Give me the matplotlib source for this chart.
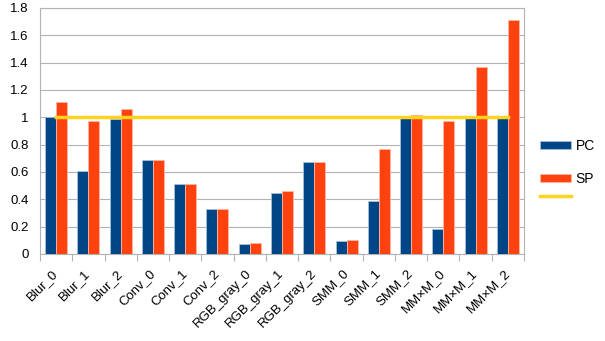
import matplotlib
matplotlib.use("Agg")
import matplotlib.pyplot as plt
import numpy as np

categories = ["Blur_0", "Blur_1", "Blur_2", "Conv_0", "Conv_1", "Conv_2",
              "RGB_gray_0", "RGB_gray_1", "RGB_gray_2", "SMM_0", "SMM_1", "SMM_2",
              "MM×M_0", "MM×M_1", "MM×M_2"]
pc = [1.0, 0.61, 0.99, 0.69, 0.51, 0.33, 0.07, 0.45, 0.67, 0.095, 0.385, 0.995, 0.18, 0.995, 0.995]
sp = [1.11, 0.97, 1.06, 0.69, 0.51, 0.33, 0.08, 0.46, 0.675, 0.10, 0.765, 1.02, 0.97, 1.37, 1.71]
ref = [1.0] * len(categories)

plt.rcParams['font.family'] = ['Liberation Sans', 'DejaVu Sans']

fig = plt.figure(figsize=(6.05, 3.41), dpi=100)
ax = fig.add_axes([40/605, 1-254/341, (524-40)/605, (254-8)/341])

x = np.arange(len(categories))
w = 0.34
b1 = ax.bar(x - w/2, pc, w, color="#004586", edgecolor="#a9c1d9", linewidth=0.6, zorder=3)
b2 = ax.bar(x + w/2, sp, w, color="#FF420E", edgecolor="#ffb6a3", linewidth=0.6, zorder=3)
ln, = ax.plot(x, ref, color="#FFD320", linewidth=2.5, zorder=4)

ax.set_xlim(-0.5, len(categories) - 0.5)
ax.set_ylim(0, 1.8)
ax.set_yticks(np.arange(0, 1.81, 0.2))
ax.set_yticklabels(["0", "0.2", "0.4", "0.6", "0.8", "1", "1.2", "1.4", "1.6", "1.8"], fontsize=9.5)
ax.yaxis.grid(True, color="#b3b3b3", linewidth=0.8, zorder=0)
ax.tick_params(axis='y', length=0, pad=8)

ax.set_xticks(x)
ax.set_xticklabels(categories, rotation=45, ha='right', va='center', rotation_mode='anchor', fontsize=9.5)
ax.set_xticks(np.arange(-0.5, len(categories), 1), minor=True)
ax.tick_params(axis='x', which='major', length=0, pad=12.5)
ax.tick_params(axis='x', which='minor', length=5, color="#b3b3b3", width=0.8)

for s in ax.spines.values():
    s.set_color("#b3b3b3")
    s.set_linewidth(0.8)

leg = ax.legend([b1, b2], ["PC", "SP"], loc='upper left',
                bbox_to_anchor=(540/605, 1-139/341), bbox_transform=fig.transFigure,
                frameon=False, fontsize=10, handlelength=2.2, handleheight=0.55,
                labelspacing=1.35, handletextpad=0.35, borderaxespad=0, borderpad=0)
ax.add_artist(leg)
leg2 = ax.legend([ln], [""], loc='center left',
                 bbox_to_anchor=(540/605, 1-197/341), bbox_transform=fig.transFigure,
                 frameon=False, fontsize=10, handlelength=2.2,
                 handletextpad=0.35, borderaxespad=0, borderpad=0)

fig.savefig("out.png", dpi=100)
